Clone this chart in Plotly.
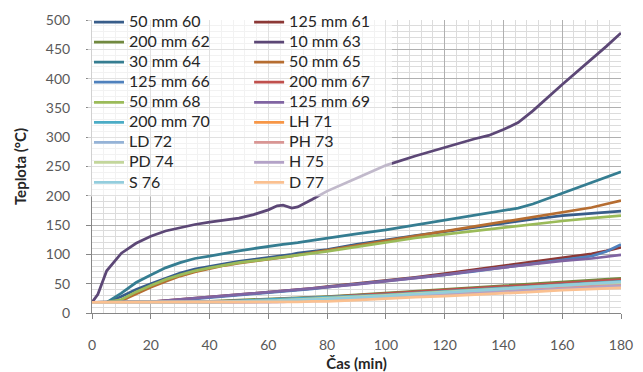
import plotly.graph_objects as go

# ---------------- data ----------------
time_min = [0, 2, 5, 10, 15, 20, 25, 30, 35, 40, 45, 50, 55, 60, 63, 65, 68, 70,
            75, 80, 90, 100, 110, 120, 130, 135, 140, 145, 150, 160, 170, 175, 180]

series_names = ["50 mm 60", "125 mm 61", "200 mm 62", "10 mm 63", "30 mm 64", "50 mm 65",
                "125 mm 66", "200 mm 67", "50 mm 68", "125 mm 69", "200 mm 70", "LH 71",
                "LD 72", "PH 73", "PD 74", "H 75", "S 76", "D 77"]

series_colors = ["#385D8A", "#8C3836", "#71893F", "#5C4776", "#357D91", "#B66D31",
                 "#4F81BD", "#C0504D", "#9BBB59", "#8064A2", "#4BACC6", "#F79646",
                 "#95B3D7", "#D99694", "#C3D69B", "#B3A2C7", "#93CDDD", "#FAC090"]

s60 = [18, 18, 18, 28, 40, 50, 59, 68, 75, 80, 84, 88, 91, 95, 97, 98, 100, 102, 105, 108, 117, 125, 132, 139, 146, 150, 153, 157, 160, 166, 170, 172, 174]
s61 = [18, 18, 18, 18, 18, 19, 21, 23, 25, 27, 29, 31, 33, 35, 36, 37, 38, 39, 42, 45, 50, 55, 61, 67, 74, 77, 80, 84, 87, 95, 101, 106, 112]
s62 = [18, 18, 18, 18, 18, 18, 18, 18, 19, 20, 21, 22, 23, 24, 24, 25, 25, 26, 27, 28, 31, 34, 37, 40, 43, 45, 46, 48, 49, 52, 55, 57, 59]
s63 = [18, 32, 72, 102, 119, 131, 140, 146, 151, 155, 158, 162, 168, 176, 183, 184, 179, 181, 194, 208, 230, 252, 268, 283, 297, 303, 313, 325, 345, 390, 433, 455, 478]
s64 = [18, 18, 18, 34, 52, 65, 77, 86, 93, 97, 102, 106, 110, 114, 116, 117, 119, 120, 124, 128, 135, 142, 150, 158, 166, 170, 174, 179, 186, 204, 222, 231, 241]
s65 = [18, 18, 18, 21, 33, 44, 54, 63, 70, 76, 81, 85, 88, 92, 94, 95, 97, 99, 103, 107, 116, 124, 131, 139, 147, 151, 155, 159, 163, 171, 180, 186, 192]
s66 = [18, 18, 18, 18, 18, 19, 20, 22, 24, 26, 28, 30, 32, 34, 35, 36, 37, 38, 41, 44, 49, 54, 60, 65, 71, 75, 78, 81, 84, 91, 97, 105, 117]
s67 = [18, 18, 18, 18, 18, 18, 18, 18, 18, 19, 20, 21, 22, 23, 23, 24, 24, 25, 26, 27, 30, 33, 36, 39, 42, 43, 45, 46, 48, 51, 54, 56, 57]
s68 = [18, 18, 18, 23, 36, 47, 57, 65, 72, 77, 82, 86, 89, 92, 94, 95, 97, 99, 102, 105, 113, 121, 128, 134, 140, 143, 146, 149, 152, 157, 162, 164, 166]
s69 = [18, 18, 18, 18, 18, 19, 21, 23, 25, 27, 29, 31, 33, 35, 36, 37, 38, 39, 42, 44, 49, 54, 60, 65, 72, 75, 78, 81, 84, 89, 93, 96, 99]
s70 = [18, 18, 18, 18, 18, 18, 18, 18, 18, 19, 20, 21, 22, 22, 23, 23, 24, 24, 25, 26, 29, 31, 34, 37, 40, 41, 43, 44, 46, 49, 51, 53, 54]
s71 = [18, 18, 18, 18, 18, 18, 18, 18, 18, 18, 18, 19, 19, 20, 20, 21, 21, 21, 22, 23, 25, 28, 30, 33, 36, 37, 39, 40, 42, 45, 47, 49, 50]
s72 = [18, 18, 18, 18, 18, 18, 18, 18, 18, 18, 18, 18, 19, 19, 20, 20, 20, 21, 21, 22, 25, 27, 30, 32, 35, 36, 37, 39, 40, 43, 45, 47, 48]
s73 = [18, 18, 18, 18, 18, 18, 18, 18, 18, 18, 18, 18, 19, 19, 19, 20, 20, 20, 21, 22, 24, 27, 29, 32, 34, 35, 37, 38, 40, 42, 45, 46, 47]
s74 = [18, 18, 18, 18, 18, 18, 18, 18, 18, 19, 19, 20, 20, 21, 21, 22, 22, 23, 24, 25, 27, 30, 33, 36, 39, 40, 42, 43, 45, 48, 50, 51, 52]
s75 = [18, 18, 18, 18, 18, 18, 18, 18, 18, 18, 18, 18, 18, 19, 19, 19, 20, 20, 21, 21, 24, 26, 28, 31, 33, 35, 36, 37, 39, 41, 43, 45, 46]
s76 = [18, 18, 18, 18, 18, 18, 18, 18, 18, 19, 19, 20, 20, 21, 21, 21, 22, 22, 23, 24, 26, 29, 32, 35, 38, 39, 41, 42, 44, 47, 50, 52, 53]
s77 = [18, 18, 18, 18, 18, 18, 18, 18, 18, 18, 18, 18, 18, 18, 18, 19, 19, 19, 20, 20, 22, 25, 27, 29, 31, 33, 34, 35, 36, 39, 41, 42, 43]

series_values = [s60, s61, s62, s63, s64, s65, s66, s67, s68, s69,
                 s70, s71, s72, s73, s74, s75, s76, s77]

x_ticks = [0, 20, 40, 60, 80, 100, 120, 140, 160, 180]
y_ticks = [0, 50, 100, 150, 200, 250, 300, 350, 400, 450, 500]

# ---------------- figure ----------------
FONT = "Lato"
fig = go.Figure()
for i, (name, color, vals) in enumerate(zip(series_names, series_colors, series_values)):
    fig.add_trace(go.Scatter(
        x=time_min, y=vals, mode="lines",
        name='<span style="font-size:16px">' + name + '</span>',
        line=dict(color=color, width=2.75),
        legend="legend" if i % 2 == 0 else "legend2",
    ))

# semi-transparent white panel behind the legend (as in the source chart)
fig.add_shape(type="rect", xref="paper", yref="paper",
              x0=-0.008, x1=0.567, y0=0.398, y1=1.04,
              fillcolor="rgba(255,255,255,0.62)", line=dict(width=0), layer="above")

legend_common = dict(
    bgcolor="rgba(0,0,0,0)", borderwidth=0,
    font=dict(family=FONT, size=13.1, color="#262626"),
    xanchor="left", yanchor="bottom", yref="paper", y=0.392, orientation="v",
    itemclick=False, itemdoubleclick=False,
)

fig.update_layout(
    width=635, height=364,
    margin=dict(l=84, r=22, t=12, b=59, autoexpand=False),
    paper_bgcolor="white", plot_bgcolor="white",
    font=dict(family=FONT, color="#404040"),
    legend=dict(x=-0.0057, **legend_common),
    legend2=dict(x=0.297, **legend_common),
    xaxis=dict(
        range=[0, 180], tickvals=x_ticks, ticktext=[str(v) for v in x_ticks],
        showgrid=True, gridcolor="#b0b0b0", gridwidth=1,
        minor=dict(dtick=4, showgrid=True, gridcolor="#dcdcdc", gridwidth=1),
        showline=True, linecolor="#868686", linewidth=1,
        ticks="outside", ticklen=5, tickcolor="#868686",
        tickfont=dict(family=FONT, size=14, color="#595959"),
        zeroline=False, ticklabelstandoff=14, automargin=False,
        title=dict(text="<b>Čas (min)</b>", font=dict(family=FONT, size=15, color="#262626"), standoff=7),
    ),
    yaxis=dict(
        range=[0, 500], tickvals=y_ticks, ticktext=[str(v) for v in y_ticks],
        showgrid=True, gridcolor="#b0b0b0", gridwidth=1,
        minor=dict(dtick=10, showgrid=True, gridcolor="#dcdcdc", gridwidth=1),
        showline=True, linecolor="#868686", linewidth=1,
        ticks="outside", ticklen=5, tickcolor="#868686",
        tickfont=dict(family=FONT, size=14, color="#595959"),
        zeroline=False, ticklabelstandoff=13, automargin=False,
        title=dict(text="<b>Teplota (°C)</b>", font=dict(family=FONT, size=15, color="#262626"), standoff=15),
    ),
    showlegend=True,
)

fig.write_html("out.html")
